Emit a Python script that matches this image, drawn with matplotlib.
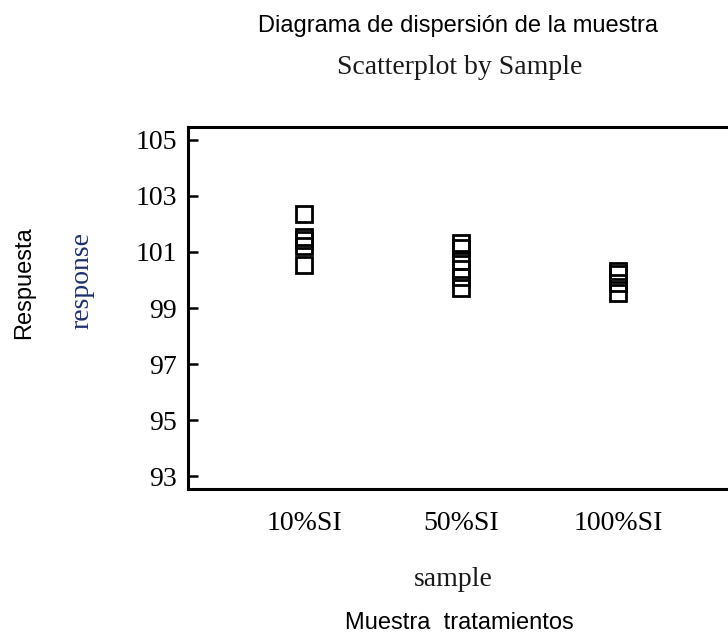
import numpy as np
import matplotlib.pyplot as plt

# data
samples = ['10%SI', '50%SI', '100%SI']
resp_10 = [102.34, 101.55, 101.43, 101.21, 100.55]
resp_50 = [101.33, 101.15, 100.67, 100.38, 100.10, 99.72]
resp_100 = [100.31, 100.20, 99.88, 99.53]
yticks = [93, 95, 97, 99, 101, 103, 105]

W, H = 728, 638
serif = 'Liberation Serif'
sans = 'Liberation Sans'

fig = plt.figure(figsize=(W / 100, H / 100), dpi=100)
ax = fig.add_axes([188 / W, (H - 489) / H, 582 / W, (489 - 127) / H])

for i, vals in enumerate([resp_10, resp_50, resp_100]):
    ax.plot([i + 1] * len(vals), vals, 's', ms=11.5, mfc='none',
            mec='black', mew=2, clip_on=False)

ax.set_xlim(0.26, 3.97)
ax.set_ylim(92.54, 105.46)
ax.set_xticks([1, 2, 3])
ax.set_xticklabels(samples, fontfamily=serif, fontsize=20)
ax.set_yticks(yticks)
ax.set_yticklabels([str(t) for t in yticks], fontfamily=serif, fontsize=20)

for s in ['left', 'top', 'bottom']:
    ax.spines[s].set_linewidth(2.2)
ax.spines['right'].set_visible(False)
ax.tick_params(axis='y', direction='in', length=7, width=1.8, pad=8)
ax.tick_params(axis='x', length=0, pad=16)

def ftext(x, y, s, **kw):
    fig.text(x / W, 1 - y / H, s, ha='center', va='center', **kw)

ftext(458, 26, 'Diagrama de dispersión de la muestra', fontfamily=sans, fontsize=17)
ftext(460, 67, 'Scatterplot by Sample', fontfamily=serif, fontsize=20, color='#1a1a1a')
ftext(453, 580, 'sample', fontfamily=serif, fontsize=20, color='#1a1a1a')
ftext(459, 623, 'Muestra  tratamientos', fontfamily=sans, fontsize=17)
ftext(24, 283, 'Respuesta', fontfamily=sans, fontsize=17, rotation=90)
ftext(82, 280, 'response', fontfamily=serif, fontsize=20, rotation=90, color='#1f2f6e')

fig.savefig('out.png', dpi=100)
